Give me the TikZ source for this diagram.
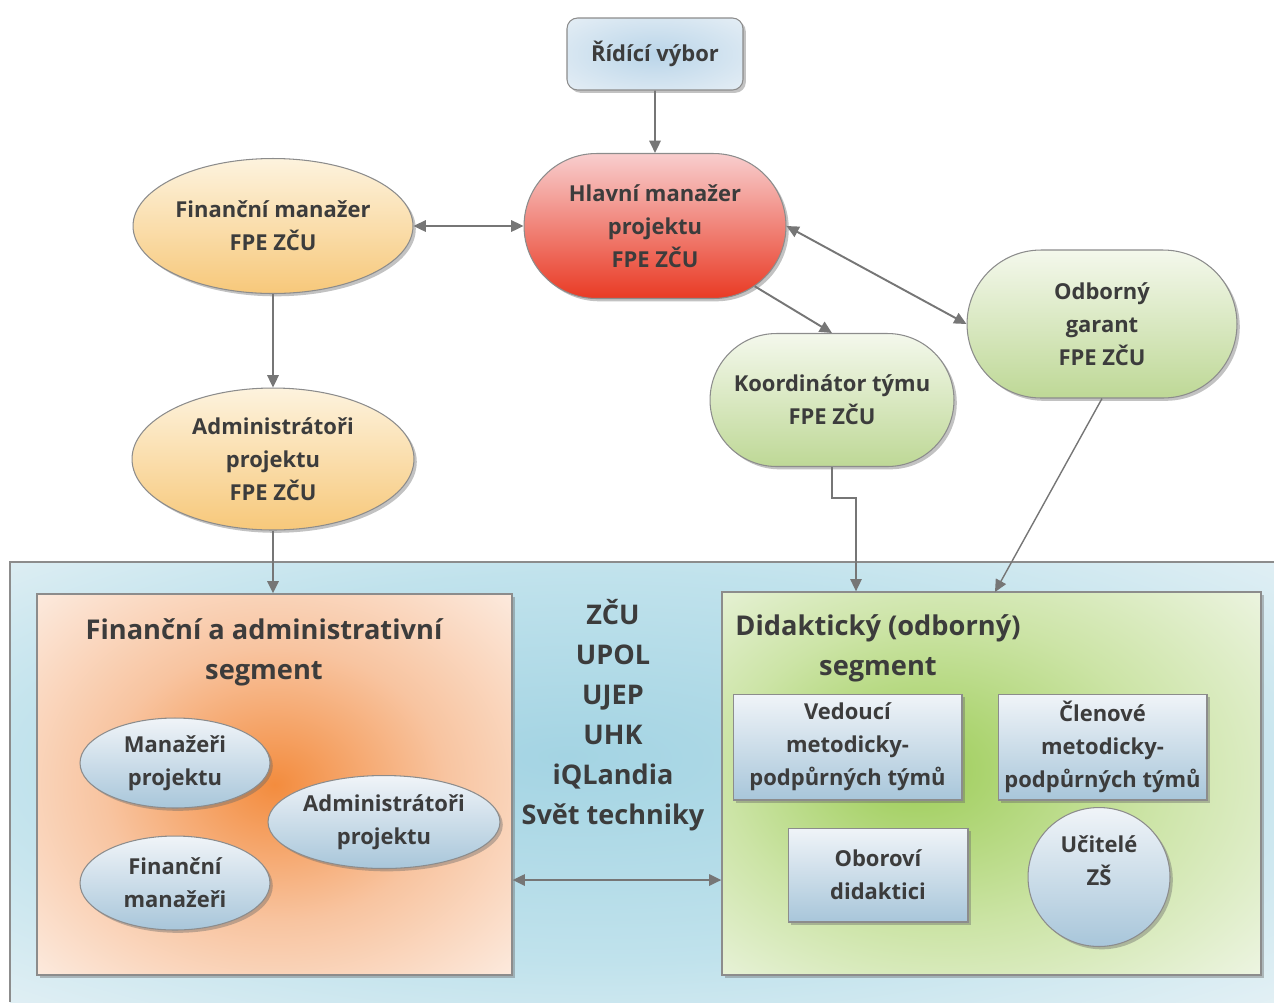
\documentclass[tikz,border=0pt]{standalone}
\usepackage{fontspec}
\setmainfont{Open Sans}
\usetikzlibrary{shapes.geometric,shapes.misc,arrows.meta,positioning,shadows}
\definecolor{txtgray}{RGB}{60,60,60}
\definecolor{linegray}{RGB}{118,118,118}
\definecolor{edgegray}{RGB}{140,140,140}
\definecolor{redtop}{RGB}{248,206,206}
\definecolor{redbot}{RGB}{233,58,36}
\definecolor{ortop}{RGB}{253,243,222}
\definecolor{orbot}{RGB}{247,200,122}
\definecolor{grtop}{RGB}{244,248,236}
\definecolor{grbot}{RGB}{190,216,150}
\definecolor{bltop}{RGB}{240,244,248}
\definecolor{blbot}{RGB}{168,198,218}
\definecolor{blcore}{RGB}{186,213,233}
\definecolor{blrim}{RGB}{246,248,250}
\definecolor{segorange}{RGB}{243,140,62}
\definecolor{segpeach}{RGB}{248,196,160}
\definecolor{segpale}{RGB}{253,244,238}
\definecolor{seggreen}{RGB}{156,204,86}
\definecolor{segmint}{RGB}{204,228,166}
\definecolor{segwhite}{RGB}{246,249,242}
\definecolor{bgblue}{RGB}{164,212,227}
\definecolor{bgmid}{RGB}{192,226,236}
\definecolor{bgpale}{RGB}{244,247,249}
\pgfdeclareradialshading{orangeglow}{\pgfpoint{0bp}{0bp}}{color(0bp)=(segorange);color(18bp)=(segpeach);color(40bp)=(segpale);color(50bp)=(segpale)}
\pgfdeclareradialshading{greenglow}{\pgfpoint{-8bp}{2bp}}{color(0bp)=(seggreen);color(20bp)=(segmint);color(42bp)=(segwhite);color(50bp)=(segwhite)}
\pgfdeclareradialshading{blueglow}{\pgfpoint{-3bp}{3bp}}{color(0bp)=(bgblue);color(22bp)=(bgmid);color(44bp)=(bgpale);color(50bp)=(bgpale)}
\pgfdeclareradialshading{boardglow}{\pgfpoint{0bp}{0bp}}{color(0bp)=(blcore);color(50bp)=(blrim)}

\begin{document}
\begin{tikzpicture}[x=0.02cm,y=-0.02cm,
  every node/.style={text=txtgray,font=\bfseries\fontsize{12.5}{18.7}\selectfont,align=center,inner sep=0pt},
  shd/.style={drop shadow={shadow xshift=1.6pt,shadow yshift=-1.6pt,opacity=0.4,fill=black!60}},
  box/.style={shd,draw=edgegray,line width=0.6pt},
  board/.style={box,rectangle,rounded corners=6pt,shading=boardglow,minimum width=3.52cm,minimum height=1.44cm},
  redstad/.style={box,rounded rectangle,top color=redtop,bottom color=redbot,minimum width=5.24cm,minimum height=2.9cm},
  oroval/.style={box,ellipse,top color=ortop,bottom color=orbot},
  grstad/.style={box,rounded rectangle,top color=grtop,bottom color=grbot},
  bloval/.style={box,ellipse,top color=bltop,bottom color=blbot},
  blrect/.style={box,rectangle,top color=bltop,bottom color=blbot},
  segbox/.style={box,rectangle,line width=0.8pt},
  seghead/.style={font=\bfseries\fontsize{15.5}{22.7}\selectfont},
  partner/.style={font=\bfseries\fontsize{15.4}{22.7}\selectfont},
  conn/.style={draw=linegray,line width=1.1pt,-{Triangle[length=7pt,width=6.5pt]}},
  both/.style={conn,{Triangle[length=7pt,width=6.5pt]}-{Triangle[length=7pt,width=6.5pt]}},
]
\useasboundingbox (0,0) rectangle (1274,1002);

% lower panel with both segments
\shade[shading=blueglow] (10,562) rectangle (1274,1002);
\draw[edgegray,line width=0.8pt] (10,1002) -- (10,562) -- (1274,562);
\node[segbox,shading=orangeglow,minimum width=9.5cm,minimum height=7.62cm] (finseg) at (274.5,784.5) {};
\node[segbox,shading=greenglow,minimum width=10.78cm,minimum height=7.66cm] (didseg) at (991.5,783.5) {};
\node[seghead] (fintitle) at (264,652) {Finanční a administrativní\\segment};
\node[seghead] (didtitle) at (878,648) {Didaktický (odborný)\\segment};
\node[partner] (partners) at (613,715) {ZČU\\UPOL\\UJEP\\UHK\\iQLandia\\Svět techniky};

\node[bloval,minimum width=3.8cm,minimum height=1.8cm] (manproj) at (175,763) {Manažeři\\projektu};
\node[bloval,minimum width=4.64cm,minimum height=1.86cm] (admproj) at (384,822) {Administrátoři\\projektu};
\node[bloval,minimum width=3.8cm,minimum height=1.88cm] (finmgrs) at (175,883) {Finanční\\manažeři};
\node[blrect,minimum width=4.58cm,minimum height=2.12cm] (vedouci) at (847.5,747) {Vedoucí\\metodicky-\\podpůrných týmů};
\node[blrect,minimum width=4.18cm,minimum height=2.12cm] (clenove) at (1102.5,747) {Členové\\metodicky-\\podpůrných týmů};
\node[blrect,minimum width=3.6cm,minimum height=1.88cm] (oborovi) at (878,875) {Oboroví\\didaktici};
\node[bloval,minimum width=2.84cm,minimum height=2.78cm] (ucitele) at (1099,877) {Učitelé\\ZŠ\\\mbox{}};

% upper part
\node[board] (ridici) at (655,54) {Řídící výbor};
\node[redstad] (hlavni) at (655,226) {Hlavní manažer\\projektu\\FPE ZČU};
\node[oroval,minimum width=5.6cm,minimum height=2.7cm] (finman) at (273,226) {Finanční manažer\\FPE ZČU};
\node[oroval,minimum width=5.64cm,minimum height=2.84cm] (admfpe) at (273,459) {Administrátoři\\projektu\\FPE ZČU};
\node[grstad,minimum width=4.88cm,minimum height=2.66cm] (koord) at (832,400) {Koordinátor týmu\\FPE ZČU};
\node[grstad,minimum width=5.4cm,minimum height=2.96cm] (garant) at (1102,324) {Odborný\\garant\\FPE ZČU};

\coordinate (kbend) at (856,498);
\coordinate (gin) at (995,592);
\coordinate (midlink) at (617,880);

\draw[conn] (ridici) -- (hlavni);
\draw[both] (finman) -- (hlavni);
\draw[both] (hlavni.east) -- (garant.west);
\draw[conn] (hlavni) -- (koord.north);
\draw[conn] (finman) -- (admfpe);
\draw[conn] (admfpe.south) -- (admfpe.south |- finseg.north);
\draw[conn,line width=0.8pt] (koord.south) |- (kbend) -- (kbend |- didseg.north);
\draw[conn,line width=0.8pt] (garant.south) -- (gin);
\draw[both] (finseg.east |- midlink) -- (didseg.west |- midlink);
\end{tikzpicture}
\end{document}
